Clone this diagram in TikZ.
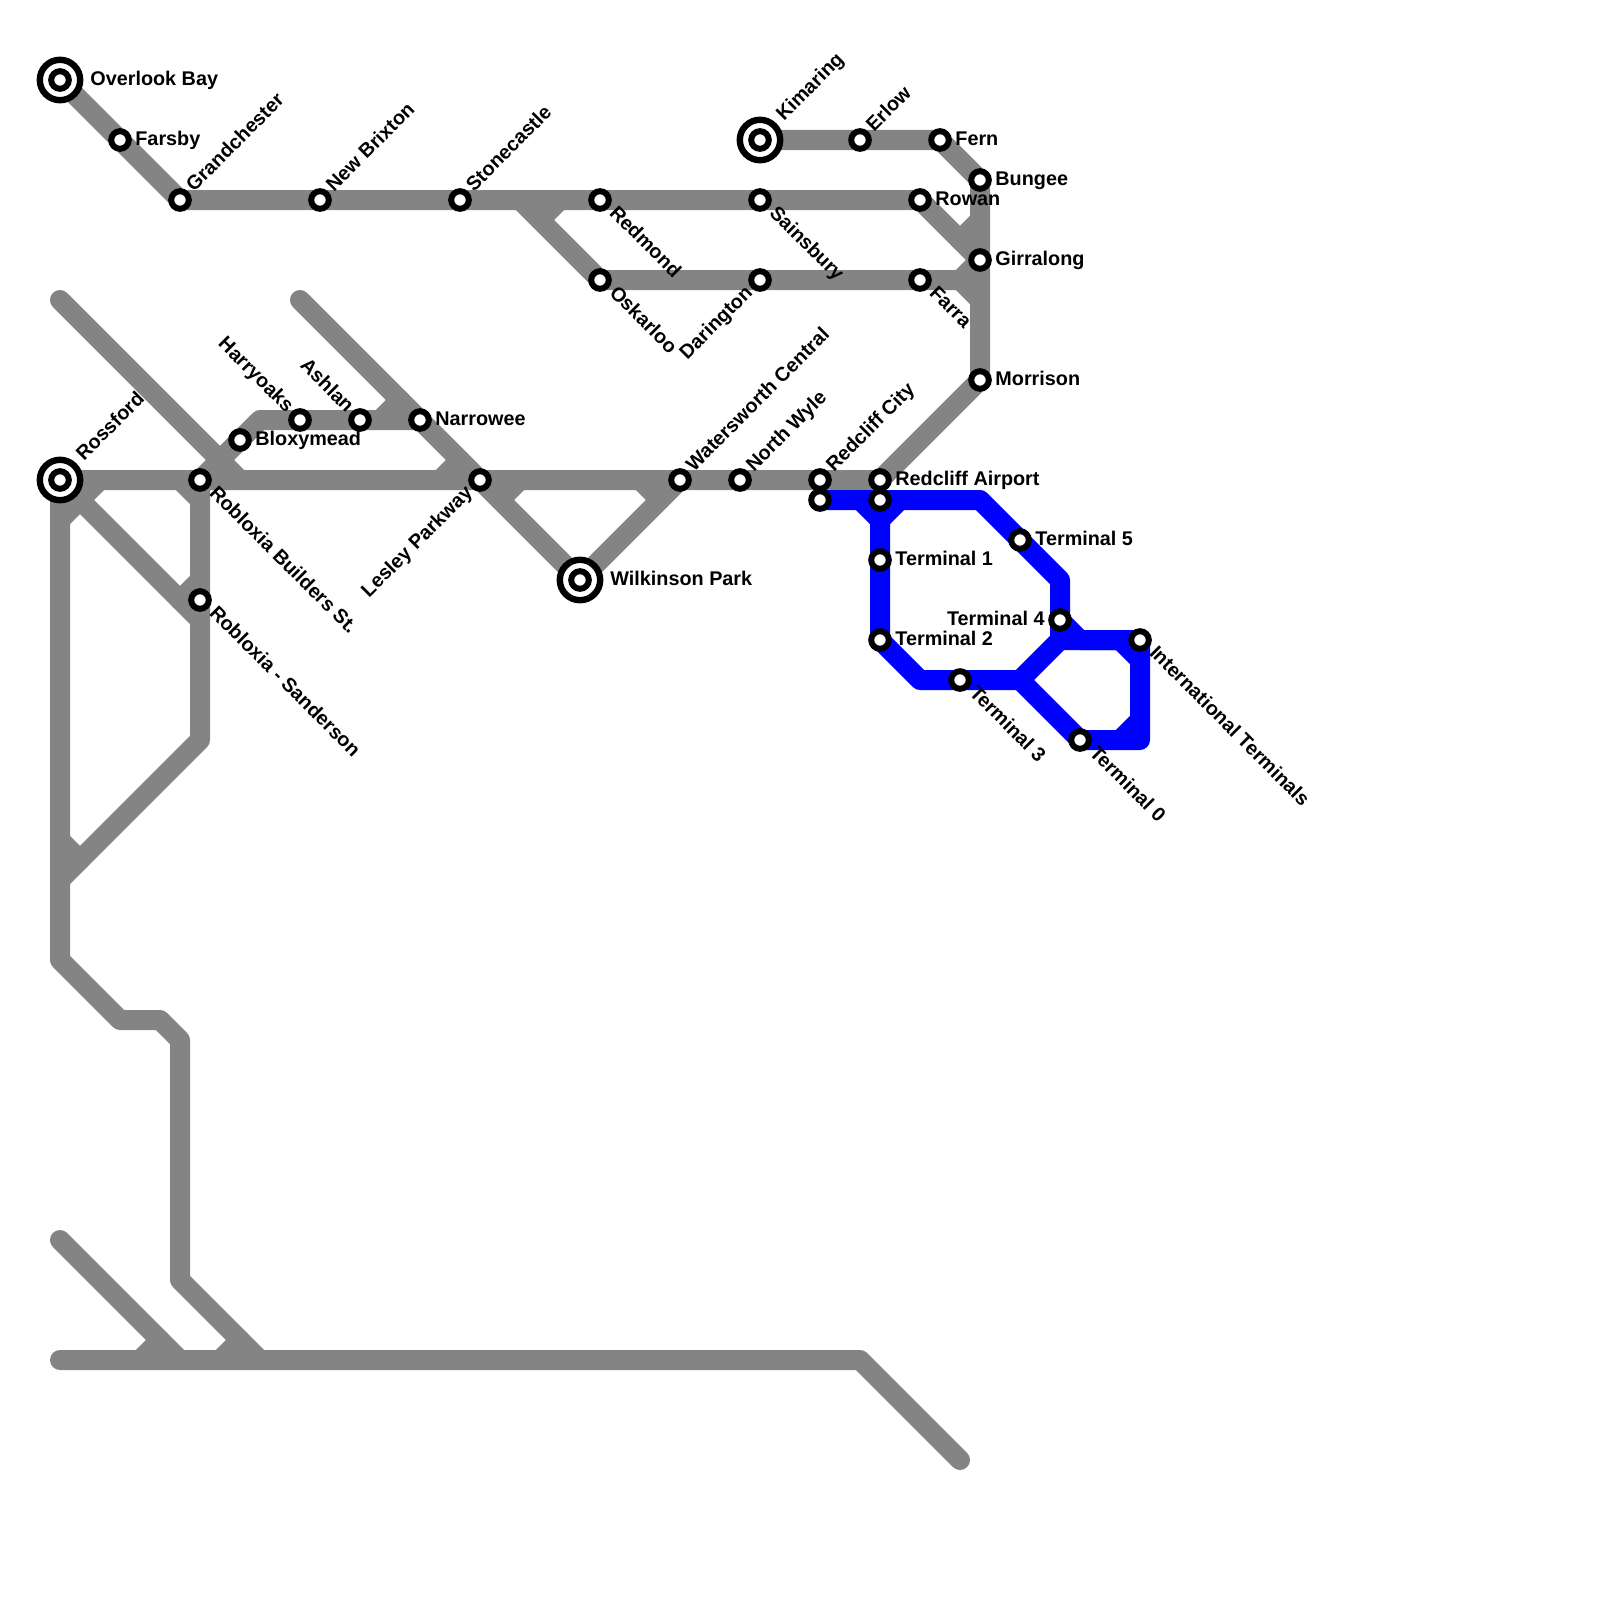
\documentclass[tikz,border=0pt]{standalone}
\usepackage{fontspec}
\setmainfont{Liberation Sans}
\usetikzlibrary{backgrounds}
\definecolor{linegray}{HTML}{848484}
\definecolor{lineblue}{HTML}{0000FF}
\tikzset{
  stn/.style={circle,draw=black,fill=white,line width=3pt,minimum size=8.8pt,inner sep=0pt},
  termo/.style={circle,draw=black,fill=white,line width=3.2pt,minimum size=20.2pt,inner sep=0pt},
  gl/.style={draw=linegray,line width=10pt,line join=round,line cap=round},
  bl/.style={draw=lineblue,line width=10pt,line join=round,line cap=round},
  txt/.style={inner sep=0pt,font=\fontsize{9.9}{12}\selectfont\bfseries,text=black},
  lr/.style={txt,anchor=mid west},
  ll/.style={txt,anchor=mid east},
  lu/.style={txt,anchor=mid west,rotate=45},
  ld/.style={txt,anchor=mid west,rotate=-45},
  lue/.style={txt,anchor=mid east,rotate=45},
  lde/.style={txt,anchor=mid east,rotate=-45},
}
\newcommand{\term}[2]{\node[termo] (#1) at (#2) {};\node[stn] (#1i) at (#1.center) {};}
\begin{document}
\begin{tikzpicture}[x=0.5pt,y=-0.5pt]
\useasboundingbox (0,0) rectangle (1600,1600);
% stations
\term{overlook}{60,80}
\term{kimaring}{760,140}
\term{rossford}{60,480}
\term{wilkinson}{580,580}
\foreach \n/\p in {farsby/{120,140},grand/{180,200},newbrix/{320,200},stone/{460,200},redmond/{600,200},sains/{760,200},rowan/{920,200},erlow/{860,140},fern/{940,140},bungee/{980,180},giral/{980,260},oskar/{600,280},daring/{760,280},farra/{920,280},morrison/{980,380},builders/{200,480},sanderson/{200,600},bloxy/{240,440},harry/{300,420},ashlan/{360,420},narrow/{420,420},lesley/{480,480},waters/{680,480},nwyle/{740,480},rcity/{820,480},rair/{880,480},rcityb/{820,500},rairb/{880,500},tone/{880,560},ttwo/{880,640},tthree/{960,680},tzero/{1080,740},tfour/{1060,620},tfive/{1020,540},intl/{1140,640}}
  {\node[stn] (\n) at (\p) {};}
% way points
\foreach \n/\p in {a/{520,200},c/{540,220},d/{560,200},e/{960,240},f/{980,220},h/{960,280},g/{980,300},j1/{100,480},j2/{60,520},k/{180,480},m/{200,500},n/{200,580},o/{180,600},ao/{200,620},pp/{200,740},q/{60,880},qa/{60,840},qb/{80,860},r/{60,960},s/{120,1020},t/{160,1020},u/{180,1040},v/{180,1280},w/{260,1360},xx/{60,1240},yy/{180,1360},z/{60,1360},aa/{860,1360},ab/{960,1460},ac/{140,1360},ad/{160,1340},ae/{220,1360},af/{240,1340},tl/{60,300},bb/{240,480},tm/{300,300},br/{260,420},ag/{380,420},ah/{400,400},ai/{440,480},aj/{460,460},ak/{500,500},al/{520,480},am/{640,480},an/{660,500},
 b1/{980,500},b2/{1060,580},b3/{1080,640},b4/{1140,740},b5/{1020,680},b6/{920,680},b7/{860,500},b8/{880,520},b9/{900,500},b10/{1060,640},b11/{1120,640},b12/{1140,660},b13/{1140,720},b14/{1120,740}}
  {\coordinate (\n) at (\p);}
% lines
\begin{scope}[on background layer]
\path[gl] (overlook.center)--(farsby.center)--(grand.center)--(newbrix.center)--(stone.center)--(redmond.center)--(sains.center)--(rowan.center)--(e)--(f);
\path[gl] (e)--(giral.center);
\path[gl] (a)--(oskar.center)--(daring.center)--(farra.center)--(h)--(giral.center);
\path[gl] (c)--(d);
\path[gl] (h)--(g);
\path[gl] (kimaring.center)--(erlow.center)--(fern.center)--(bungee.center)--(giral.center)--(g)--(morrison.center)--(rair.center)--(rcity.center)--(nwyle.center)--(waters.center)--(lesley.center)--(builders.center)--(rossford.center)--(r)--(s)--(t)--(u)--(v)--(w);
\path[gl] (waters.center)--(wilkinson.center)--(lesley.center)--(tm);
\path[gl] (tl)--(bb);
\path[gl] (builders.center)--(br)--(narrow.center);
\path[gl] (ag)--(ah);
\path[gl] (ai)--(aj);
\path[gl] (ak)--(al);
\path[gl] (am)--(an);
\path[gl] (j1)--(j2);
\path[gl] (rossford.center)--(ao);
\path[gl] (k)--(m);
\path[gl] (builders.center)--(pp)--(q);
\path[gl] (n)--(o);
\path[gl] (qa)--(qb);
\path[gl] (xx)--(yy);
\path[gl] (z)--(aa)--(ab);
\path[gl] (ac)--(ad);
\path[gl] (ae)--(af);
\path[bl] (rcityb.center)--(rairb.center)--(b1)--(tfive.center)--(b2)--(tfour.center)--(b3)--(intl.center)--(b4)--(tzero.center)--(b5)--(tthree.center)--(b6)--(ttwo.center)--(tone.center)--(rairb.center);
\path[bl] (b7)--(b8)--(b9);
\path[bl] (b5)--(b10)--(intl.center);
\path[bl] (tfour.center)--(b10);
\path[bl] (b11)--(b12);
\path[bl] (b13)--(b14);
\end{scope}
% labels
\node[lr] (l1) at ([shift={(30,0)}]overlook.center) {Overlook Bay};
\node[lr] (l2) at ([shift={(15,0)}]farsby.center) {Farsby};
\node[lu] (l3) at ([shift={(10,-11)}]grand.center) {Grandchester};
\node[lu] (l4) at ([shift={(10,-11)}]newbrix.center) {New Brixton};
\node[lu] (l5) at ([shift={(10,-11)}]stone.center) {Stonecastle};
\node[ld] (l6) at ([shift={(12,10)}]redmond.center) {Redmond};
\node[ld] (l7) at ([shift={(12,10)}]sains.center) {Sainsbury};
\node[lr] (l8) at ([shift={(15,0)}]rowan.center) {Rowan};
\node[lu] (l9) at ([shift={(20,-22)}]kimaring.center) {Kimaring};
\node[lu] (l10) at ([shift={(10,-11)}]erlow.center) {Erlow};
\node[lr] (l11) at ([shift={(15,0)}]fern.center) {Fern};
\node[lr] (l12) at ([shift={(15,0)}]bungee.center) {Bungee};
\node[lr] (l13) at ([shift={(15,0)}]giral.center) {Girralong};
\node[ld] (l14) at ([shift={(12,10)}]oskar.center) {Oskarloo};
\node[lue] (l15) at ([shift={(-10,10)}]daring.center) {Darington};
\node[ld] (l16) at ([shift={(12,10)}]farra.center) {Farra};
\node[lr] (l17) at ([shift={(15,0)}]morrison.center) {Morrison};
\node[lu] (l18) at ([shift={(20,-22)}]rossford.center) {Rossford};
\node[ld] (l19) at ([shift={(12,10)}]builders.center) {Robloxia Builders St.};
\node[ld] (l20) at ([shift={(12,10)}]sanderson.center) {Robloxia - Sanderson};
\node[lr] (l21) at ([shift={(15,0)}]bloxy.center) {Bloxymead};
\node[lde] (l22) at ([shift={(-10,-10)}]harry.center) {Harryoaks};
\node[lde] (l23) at ([shift={(-10,-10)}]ashlan.center) {Ashlan};
\node[lr] (l24) at ([shift={(15,0)}]narrow.center) {Narrowee};
\node[lue] (l25) at ([shift={(-10,10)}]lesley.center) {Lesley Parkway};
\node[lr] (l26) at ([shift={(30,0)}]wilkinson.center) {Wilkinson Park};
\node[lu] (l27) at ([shift={(10,-11)}]waters.center) {Watersworth Central};
\node[lu] (l28) at ([shift={(10,-11)}]nwyle.center) {North Wyle};
\node[lu] (l29) at ([shift={(10,-11)}]rcity.center) {Redcliff City};
\node[lr] (l30) at ([shift={(15,0)}]rair.center) {Redcliff Airport};
\node[lr] (l31) at ([shift={(15,0)}]tone.center) {Terminal 1};
\node[lr] (l32) at ([shift={(15,0)}]ttwo.center) {Terminal 2};
\node[ld] (l33) at ([shift={(12,10)}]tthree.center) {Terminal 3};
\node[ld] (l34) at ([shift={(12,10)}]tzero.center) {Terminal 0};
\node[ll] (l35) at ([shift={(-15,0)}]tfour.center) {Terminal 4};
\node[lr] (l36) at ([shift={(15,0)}]tfive.center) {Terminal 5};
\node[ld] (l37) at ([shift={(12,10)}]intl.center) {International Terminals};
\end{tikzpicture}
\end{document}
